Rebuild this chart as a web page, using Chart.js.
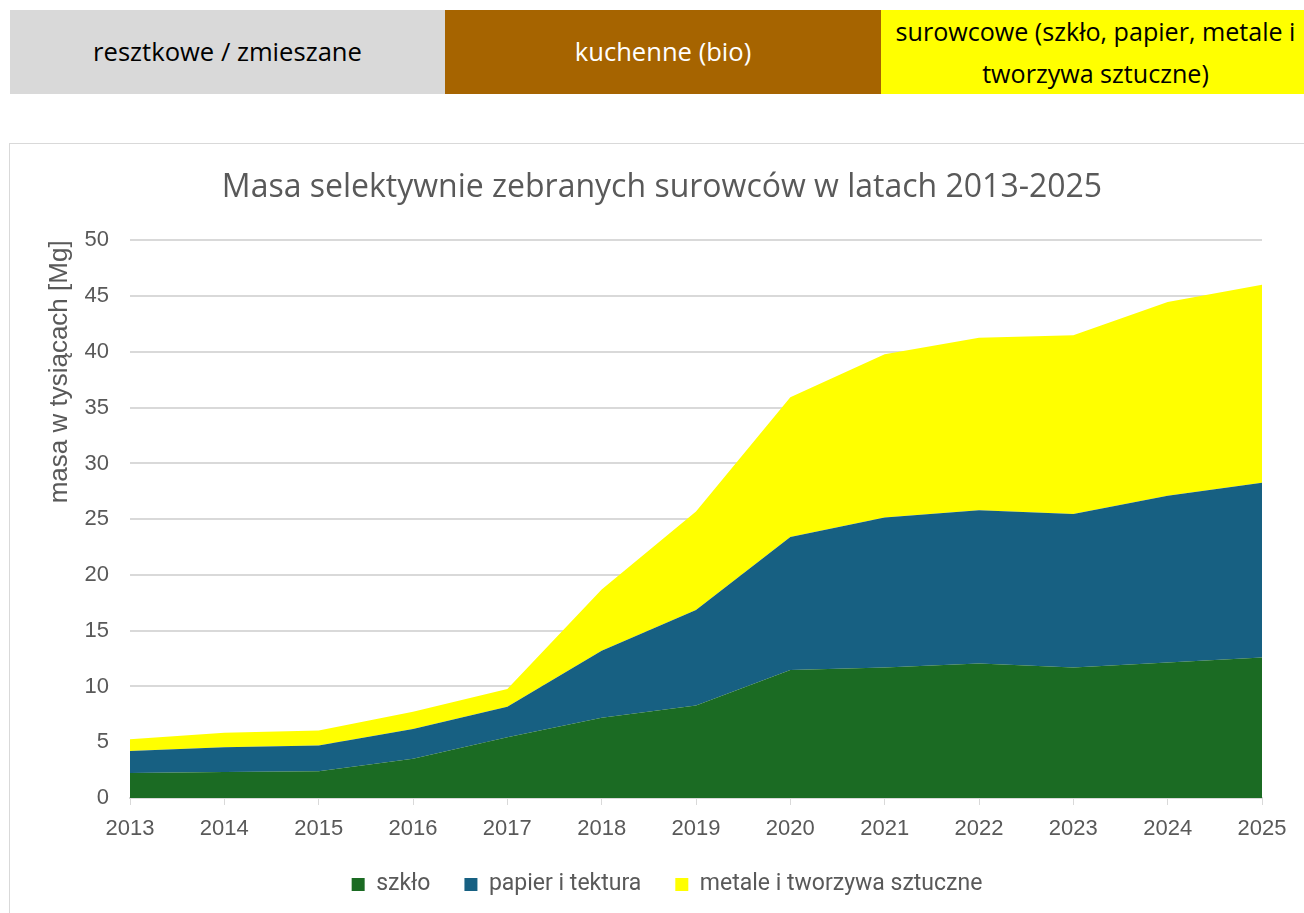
<!DOCTYPE html>
<html>
<head>
<meta charset="utf-8">
<script src="https://cdn.jsdelivr.net/npm/chart.js@4"></script>
<style>
  body { margin: 0; width: 1304px; height: 913px; overflow: hidden; background: #fff; }
  .naglowek { position: absolute; top: 10px; height: 84px; display: flex; align-items: center; justify-content: center;
              text-align: center; font-family: "Open Sans", sans-serif; font-size: 25.6px; line-height: 42px; white-space: nowrap; }
  #wykres { position: absolute; left: 9px; top: 143px; width: 1295px; height: 770px;
            border: 1px solid #d9d9d9; border-right: none; border-bottom: none; box-sizing: border-box; }
</style>
</head>
<body>
<div class="naglowek" style="left:10px;width:435px;background:#d9d9d9;color:#000">resztkowe / zmieszane</div>
<div class="naglowek" style="left:445px;width:436px;background:#a66400;color:#fff">kuchenne (bio)</div>
<div class="naglowek" style="left:881px;width:423px;background:#ffff00;color:#000;font-size:25.1px;padding-left:6px;box-sizing:border-box">surowcowe (szkło, papier, metale i<br>tworzywa sztuczne)</div>
<div id="wykres"><canvas id="masa"></canvas></div>
<script>
  // lata i masy w tysiacach Mg
  const lata = ['2013', '2014', '2015', '2016', '2017', '2018', '2019', '2020', '2021', '2022', '2023', '2024', '2025'];
  const szklo = [2.24, 2.33, 2.39, 3.52, 5.44, 7.2, 8.3, 11.47, 11.71, 12.07, 11.71, 12.16, 12.6];
  const papier = [1.97, 2.21, 2.32, 2.66, 2.74, 6.0, 8.55, 11.93, 13.44, 13.73, 13.76, 14.94, 15.66];
  const metale = [1.06, 1.31, 1.35, 1.55, 1.59, 5.5, 8.85, 12.53, 14.65, 15.48, 16.02, 17.37, 17.77];

  const szary = '#595959';
  const kreska = '#d9d9d9';
  const arial = '"Liberation Sans", Arial, sans-serif';

  // tytul i legenda w Excelu sa wysrodkowane na calym obszarze, nie na wykresie
  const przesun = {
    id: 'przesun',
    afterLayout(chart) {
      chart.titleBlock.left += 16;
      chart.titleBlock.right += 16;
      chart.legend.left += 21;
      chart.legend.right += 21;
    }
  };

  new Chart(document.getElementById('masa'), {
    type: 'line',
    data: {
      labels: lata,
      datasets: [
        { label: 'szkło', data: szklo, backgroundColor: '#1b6b23', borderColor: '#1b6b23', fill: 'origin' },
        { label: 'papier i tektura', data: papier, backgroundColor: '#176082', borderColor: '#176082', fill: '-1' },
        { label: 'metale i tworzywa sztuczne', data: metale, backgroundColor: '#ffff00', borderColor: '#ffff00', fill: '-1' }
      ]
    },
    plugins: [przesun],
    options: {
      responsive: true,
      maintainAspectRatio: false,
      animation: false,
      elements: { point: { radius: 0 }, line: { borderWidth: 0, tension: 0 } },
      layout: { padding: { left: 20, right: 42, top: 10, bottom: 7 } },
      plugins: {
        title: {
          display: true,
          text: 'Masa selektywnie zebranych surowców w latach 2013-2025',
          color: szary,
          font: { family: '"Open Sans", sans-serif', size: 32, weight: 'normal' },
          padding: { top: 15, bottom: 33 }
        },
        legend: {
          position: 'bottom',
          labels: {
            color: szary,
            font: { family: 'Roboto, sans-serif', size: 23 },
            boxWidth: 13, boxHeight: 13, padding: 34
          }
        },
        tooltip: { enabled: false }
      },
      scales: {
        x: {
          offset: false,
          afterFit: (s) => { s.height = 41; },
          grid: { drawOnChartArea: false, drawTicks: true, tickLength: 7, color: kreska },
          border: { color: kreska, width: 2 },
          ticks: { color: szary, padding: 11, font: { family: arial, size: 22 }, maxRotation: 0 }
        },
        y: {
          stacked: true,
          min: 0, max: 50,
          afterFit: (s) => { s.width = 100; },
          grid: { color: kreska, lineWidth: 2, drawTicks: false },
          border: { display: false },
          ticks: { stepSize: 5, color: szary, padding: 21, font: { family: arial, size: 22 } },
          title: {
            display: true, text: 'masa w tysiącach [Mg]', color: szary, align: 'end',
            font: { family: arial, size: 26 }, padding: { top: 14, bottom: 0 }
          }
        }
      }
    }
  });
</script>
</body>
</html>
